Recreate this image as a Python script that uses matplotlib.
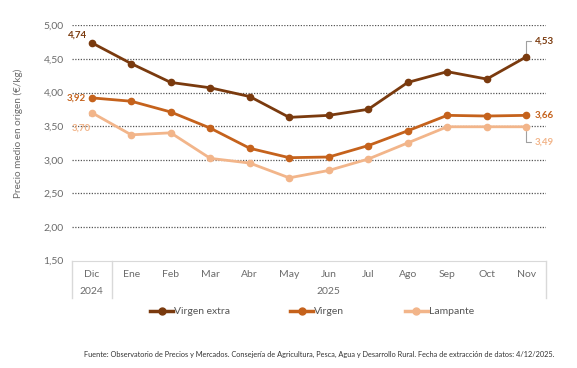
import numpy as np
import matplotlib
matplotlib.use('Agg')
import matplotlib.pyplot as plt
from matplotlib.lines import Line2D

plt.rcParams['font.family'] = ['Lato', 'DejaVu Sans']

months = ['Dic', 'Ene', 'Feb', 'Mar', 'Abr', 'May', 'Jun', 'Jul', 'Ago', 'Sep', 'Oct', 'Nov']
years = ['2024', '2025']
virgen_extra = [4.74, 4.43, 4.15, 4.07, 3.94, 3.63, 3.66, 3.75, 4.15, 4.31, 4.20, 4.53]
virgen = [3.92, 3.87, 3.71, 3.47, 3.17, 3.03, 3.04, 3.21, 3.43, 3.66, 3.65, 3.66]
lampante = [3.70, 3.37, 3.40, 3.02, 2.95, 2.73, 2.84, 3.01, 3.25, 3.49, 3.49, 3.49]
yticks = [1.5, 2.0, 2.5, 3.0, 3.5, 4.0, 4.5, 5.0]

c_extra = '#7a3a0e'
c_virgen = '#c5621c'
c_lamp = '#f2b58a'
grey_txt = '#6b6b6b'

W, H = 577, 368
fig = plt.figure(figsize=(W / 100, H / 100), dpi=100)
ax = fig.add_axes([72 / W, 1 - 260.5 / H, (546 - 72) / W, (260.5 - 25.3) / H])

x = np.arange(len(months))
ax.plot(x, virgen_extra, color=c_extra, lw=2.0, marker='o', ms=4.5, label='Virgen extra', zorder=4)
ax.plot(x, virgen, color=c_virgen, lw=2.0, marker='o', ms=4.5, label='Virgen', zorder=4)
ax.plot(x, lampante, color=c_lamp, lw=2.0, marker='o', ms=4.5, label='Lampante', zorder=4)

ax.set_xlim(-0.5, len(months) - 0.5)
ax.set_ylim(1.5, 5.0)
ax.set_yticks(yticks)
ax.set_yticklabels([f'{v:.2f}'.replace('.', ',') for v in yticks], color=grey_txt, fontsize=7.5)
for v in yticks[1:]:
    ax.axhline(v, color='#555555', lw=0.9, ls=(0, (1, 1.2)), zorder=1)

for s in ['left', 'right', 'top']:
    ax.spines[s].set_visible(False)
ax.spines['bottom'].set_color('#d9d9d9')
ax.tick_params(axis='y', length=0, pad=6)
ax.tick_params(axis='x', length=0, pad=7)
ax.set_xticks(x)
ax.set_xticklabels(months, color=grey_txt, fontsize=7.5)

# category table lines and year labels
tr = ax.get_xaxis_transform()
depth = -(298 - 260.5) / (260.5 - 25.3)
for xv in [-0.5, 0.5, len(months) - 0.5]:
    ax.plot([xv, xv], [0, depth], transform=tr, color='#d9d9d9', lw=1, clip_on=False)
yy = -(292 - 260.5) / (260.5 - 25.3)
ax.text(0, yy, years[0], transform=tr, ha='center', va='center', color=grey_txt, fontsize=7.5)
ax.text(6, yy, years[1], transform=tr, ha='center', va='center', color=grey_txt, fontsize=7.5)

# value labels
def fmt(v):
    return f'{v:.2f}'.replace('.', ',')

ax.annotate(fmt(virgen_extra[0]), (0, virgen_extra[0]), xytext=(-3.4, 5.4), textcoords='offset points',
            ha='right', va='center', color=c_extra, fontsize=7, fontweight='bold')
ax.annotate(fmt(virgen[0]), (0, virgen[0]), xytext=(-4, 0), textcoords='offset points',
            ha='right', va='center', color=c_virgen, fontsize=7, fontweight='bold')
ax.annotate(fmt(lampante[0]), (0, lampante[0]), xytext=(-7.3, -10.8), textcoords='offset points',
            ha='center', va='center', color=c_lamp, fontsize=7, fontweight='bold',
            arrowprops=dict(arrowstyle='-', color='#a0a0a0', lw=0.8, shrinkA=4, shrinkB=2))
ax.annotate(fmt(virgen_extra[-1]), (11, virgen_extra[-1]), xytext=(6.1, 11.4), textcoords='offset points',
            ha='left', va='center', color=c_extra, fontsize=7, fontweight='bold',
            arrowprops=dict(arrowstyle='-', color='#a0a0a0', lw=0.8, shrinkA=1, shrinkB=3,
                            connectionstyle='angle,angleA=0,angleB=90,rad=0'))
ax.annotate(fmt(virgen[-1]), (11, virgen[-1]), xytext=(6.1, 0), textcoords='offset points',
            ha='left', va='center', color=c_virgen, fontsize=7, fontweight='bold')
ax.annotate(fmt(lampante[-1]), (11, lampante[-1]), xytext=(6.1, -10.8), textcoords='offset points',
            ha='left', va='center', color=c_lamp, fontsize=7, fontweight='bold',
            arrowprops=dict(arrowstyle='-', color='#a0a0a0', lw=0.8, shrinkA=1, shrinkB=3,
                            connectionstyle='angle,angleA=0,angleB=90,rad=0'))

fig.text(18 / W, 1 - 133 / H, 'Precio medio en origen (€/kg)', rotation=90, ha='center', va='center',
         color=grey_txt, fontsize=7.2)

handles = [Line2D([], [], color=c, lw=2.5, marker='o', ms=5) for c in (c_extra, c_virgen, c_lamp)]
fig.legend(handles, ['Virgen extra', 'Virgen', 'Lampante'], loc='center', ncol=3,
           bbox_to_anchor=(312 / W, 1 - 311.7 / H), frameon=False, fontsize=7.5,
           handlelength=2.2, handletextpad=0.1, columnspacing=5.8, labelcolor='#555555')

fig.text(554 / W, 1 - 354 / H,
         'Fuente: Observatorio de Precios y Mercados. Consejería de Agricultura, Pesca, Agua y Desarrollo Rural. '
         'Fecha de extracción de datos: 4/12/2025.',
         ha='right', va='center', fontsize=5.35, color='#333333')

fig.savefig('out.png', dpi=100)
